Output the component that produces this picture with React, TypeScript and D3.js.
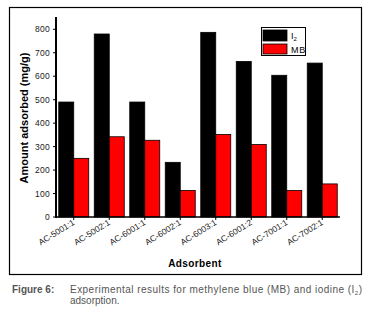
import React from "react";
import * as d3 from "d3";

const categories = ["AC-5001:1", "AC-5002:1", "AC-6001:1", "AC-6002:1", "AC-6003:1", "AC-6001:2", "AC-7001:1", "AC-7002:1"];
const iodine = [490, 780, 490, 233, 787, 663, 604, 656];
const mb = [250, 342, 327, 113, 352, 309, 113, 141];
const yTicks = [0, 100, 200, 300, 400, 500, 600, 700, 800];

export default function App() {
  const W = 373, H = 318;
  const x0 = 56, x1 = 340, yBase = 217, yTopAxis = 17;
  const x = d3.scaleBand<string>().domain(categories).range([x0, x1]);
  const y = d3.scaleLinear().domain([0, 800]).range([yBase, 29.3]);
  const bw = 15;
  const font = "Arial, 'Liberation Sans', sans-serif";
  const narrow = "'Liberation Sans Narrow', 'Arial Narrow', 'Liberation Sans', sans-serif";
  return (
    <svg width={W} height={H} style={{ position: "absolute", left: 0, top: 0 }}>
      <rect x={0} y={0} width={W} height={H} fill="#fff" />
      <rect x={9.5} y={7.5} width={352} height={267} fill="none" stroke="#000" strokeWidth={1.2} />
      {categories.map((c, i) => {
        const cx = (x(c) as number) + x.bandwidth() / 2;
        return (
          <g key={c}>
            <rect x={cx - bw} y={y(iodine[i])} width={bw} height={yBase - y(iodine[i])} fill="#000" stroke="#000" strokeWidth={0.8} />
            <rect x={cx} y={y(mb[i])} width={bw} height={yBase - y(mb[i])} fill="#ff0000" stroke="#000" strokeWidth={0.8} />
          </g>
        );
      })}
      {/* y axis */}
      <line x1={x0} x2={x0} y1={yBase + 1} y2={yTopAxis} stroke="#000" strokeWidth={2} />
      {yTicks.map((t) => (
        <g key={t}>
          <line x1={x0 - 3} x2={x0} y1={y(t)} y2={y(t)} stroke="#000" strokeWidth={1} />
          <text x={x0 - 6} y={y(t) + 3} textAnchor="end" fontSize={8.5} fontFamily={font} fill="#222" letterSpacing={0.3}>{t}</text>
        </g>
      ))}
      {/* x axis */}
      <line x1={x0 - 1} x2={x1} y1={yBase} y2={yBase} stroke="#000" strokeWidth={1.6} />
      {categories.map((c) => {
        const cx = (x(c) as number) + x.bandwidth() / 2;
        return (
          <g key={c}>
            <line x1={cx} x2={cx} y1={yBase} y2={yBase + 3} stroke="#000" strokeWidth={1} />
            <text transform={`translate(${cx + 1.5},${yBase + 7}) rotate(-32)`} textAnchor="end" fontSize={8.5} fontFamily={font} fill="#222">{c}</text>
          </g>
        );
      })}
      <text transform="translate(28,118) rotate(-90)" textAnchor="middle" fontSize={11} fontWeight="bold" fontFamily={font} fill="#000">Amount adsorbed (mg/g)</text>
      <text x={195} y={267} textAnchor="middle" fontSize={10} fontWeight="bold" fontFamily={font} fill="#000" letterSpacing={0.4}>Adsorbent</text>
      {/* legend */}
      <rect x={261.5} y={27.5} width={44} height={28} fill="#fff" stroke="#000" strokeWidth={1} />
      <rect x={263} y={30} width={24} height={11} fill="#000" stroke="#000" strokeWidth={0.8} />
      <rect x={263} y={44} width={24} height={10} fill="#ff0000" stroke="#000" strokeWidth={0.8} />
      <text x={291} y={39} fontSize={9} fontFamily={font} fill="#000">I<tspan fontSize={6} dy={2}>2</tspan></text>
      <text x={291} y={53} fontSize={9} fontFamily={font} fill="#000" letterSpacing={0.8}>MB</text>
      {/* caption */}
      <text x={12} y={293} fontSize={10} fontWeight="bold" fontFamily={narrow} fill="#555">Figure 6:</text>
      <text x={70} y={293} fontSize={10} fontFamily={narrow} fill="#555" textLength={292} lengthAdjust="spacing">Experimental results for methylene blue (MB) and iodine (I<tspan fontSize={6} dy={2}>2</tspan><tspan dy={-2}>)</tspan></text>
      <text x={70} y={304} fontSize={10} fontFamily={narrow} fill="#555">adsorption.</text>
    </svg>
  );
}
